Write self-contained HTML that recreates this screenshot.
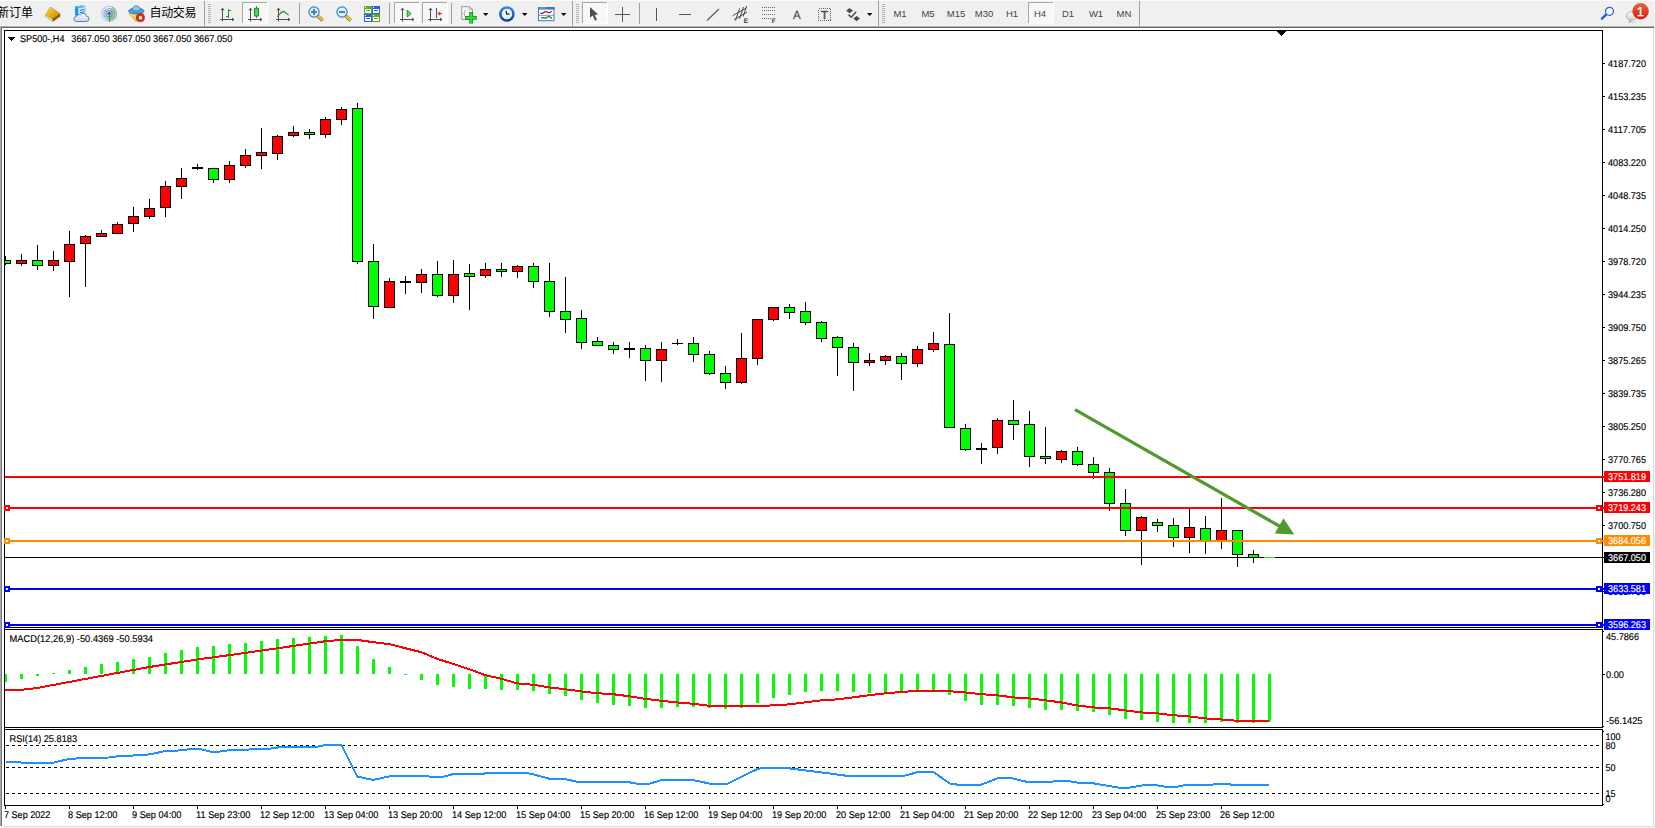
<!DOCTYPE html>
<html lang="zh"><head><meta charset="utf-8"><title>SP500-,H4</title>
<style>
html,body{margin:0;padding:0;background:#fff;overflow:hidden}
body{width:1655px;height:828px;position:relative}
svg{position:absolute;left:0;top:0;display:block}
text{font-family:"Liberation Sans", "DejaVu Sans", sans-serif;font-size:9.8px;fill:#000;text-rendering:geometricPrecision;stroke:#000;stroke-width:.15px}
.cj{font-family:"Liberation Sans", "Noto Sans CJK SC", "WenQuanYi Zen Hei", sans-serif;font-size:12px;stroke:none;text-rendering:auto}
.tf{font-size:9.5px;fill:#444;stroke:none;text-rendering:auto}
.wl{fill:#fff;stroke:#fff}
</style></head><body>
<svg width="1655" height="828" viewBox="0 0 1655 828">
<g shape-rendering="crispEdges">
<rect x="0" y="0" width="1655" height="828" fill="#fff"/>
<rect x="0" y="0" width="1654" height="26" fill="#f0f0f0"/>
<rect x="0" y="0" width="1655" height="1" fill="#fbfbfb"/>
<rect x="0" y="25" width="1654" height="1" fill="#f4f4f4"/>
<rect x="0" y="26" width="1654" height="1" fill="#b0b0b0"/>
<rect x="0" y="27" width="1654" height="1" fill="#696969"/>
<rect x="0" y="27" width="1" height="799" fill="#a8a8a8"/>
<rect x="1" y="28" width="1" height="798" fill="#787878"/>
<rect x="1653" y="28" width="1" height="799" fill="#dcdcdc"/>
<rect x="2" y="826" width="1652" height="1" fill="#dcdcdc"/>
<rect x="0" y="827" width="1655" height="1" fill="#f6f6f6"/>
<rect x="1654" y="0" width="1" height="828" fill="#f6f6f6"/>
</g>
<text class="cj" x="-3" y="17.2">新订单</text>
<defs><linearGradient id="gb" x1="0" y1="0" x2="1" y2="1"><stop offset="0" stop-color="#fbe35a"/><stop offset=".5" stop-color="#e3ad18"/><stop offset="1" stop-color="#b98212"/></linearGradient><linearGradient id="cl" x1="0" y1="0" x2="0" y2="1"><stop offset="0" stop-color="#ffffff"/><stop offset="1" stop-color="#c9d6ea"/></linearGradient><linearGradient id="hy" x1="0" y1="0" x2="1" y2="1"><stop offset="0" stop-color="#fbea7a"/><stop offset="1" stop-color="#e2ac18"/></linearGradient></defs>
<g><path d="M45 16.400 L45.600 14.800 L49.700 7.500 L51.400 7.300 L60 13.600 L60.600 16.200 L52.800 21.800 Z" fill="#a8700c"/><path d="M49.900 7.700 L51.300 7.600 L59.700 13.700 L52.500 19 L45.700 15 Z" fill="url(#gb)"/><path d="M45.300 16.200 L45.800 15.200 L52.500 19.200 L52.700 21.200 Z" fill="#f6e4a4"/><path d="M52.700 19.300 L59.800 14.100 L60.200 16 L52.900 21.300 Z" fill="#8a5a0a"/></g>
<g><path d="M75.200 6.600 L82.300 5.500 L85.800 6.700 L85.800 15.200 L78.300 16.500 L75.200 15.200 Z" fill="#1f7fe0"/><path d="M75.200 6.600 L78.300 7.900 L78.300 16.500 L75.200 15.200 Z" fill="#0a9cff"/><path d="M78.300 7.900 L85.800 6.700 L85.800 15.200 L78.300 16.500 Z" fill="#cfe9ff"/><path d="M75.200 6.600 L82.300 5.500 L85.800 6.700 L78.300 7.900 Z" fill="#5cb8ff"/><path d="M80 10.300l4.600-.8M80 12.600l4.600-.8" stroke="#2a6cc0" stroke-width="1"/><path d="M76.300 21.500h9.800a2.700 2.700 0 0 0 .4-5.400a3.300 3.300 0 0 0-6-1.300a2.800 2.800 0 0 0-3.900 1.700a2.500 2.500 0 0 0-.3 5z" fill="url(#cl)" stroke="#5873ae" stroke-width=".9"/></g>
<g fill="none"><circle cx="109.100" cy="13.800" r="7.500" stroke="#b9c8e6" stroke-width="1.100"/><circle cx="109.100" cy="13.800" r="5.300" stroke="#8aa6dc" stroke-width="1.200"/><circle cx="109.100" cy="13.800" r="3.100" stroke="#5f86d0" stroke-width="1.200"/><path d="M109.100 13.800 L109.300 21.600 A7.800 7.800 0 0 0 116.800 12 A7.800 7.800 0 0 0 112 6.600 Z" fill="#58a848" stroke="none" opacity=".38"/><circle cx="109.100" cy="13.600" r="1.700" fill="#2a52c6"/><path d="M109.400 14.500V21.600" stroke="#2ea32c" stroke-width="1.300"/></g>
<g><path d="M128.800 13.200 L143.600 13.200 L136 21.700 Z" fill="url(#hy)" stroke="#c89a18" stroke-width=".6"/><ellipse cx="136.300" cy="11" rx="7.700" ry="2.900" fill="#4f9fdc" stroke="#256fae" stroke-width=".8"/><path d="M132.300 10.200c.2-3.200 1.900-4.400 4-4.400s3.800 1.200 4 4.400c-1.600 1-6.400 1-8 0z" fill="#8cc6ee" stroke="#2f7ab8" stroke-width=".7"/><circle cx="140.400" cy="17.700" r="4.100" fill="#de2a1c" stroke="#b0180e" stroke-width=".6"/><rect x="138.900" y="16.200" width="3.100" height="3.100" fill="#fff"/></g>
<text class="cj" x="149.500" y="17.2" textLength="47" lengthAdjust="spacing">自动交易</text>
<rect x="204" y="1" width="1" height="25" fill="#a0a0a0" shape-rendering="crispEdges"/>
<g shape-rendering="crispEdges" fill="#b4b4b4"><rect x="208" y="4" width="3" height="1"/><rect x="208" y="6" width="3" height="1"/><rect x="208" y="8" width="3" height="1"/><rect x="208" y="10" width="3" height="1"/><rect x="208" y="12" width="3" height="1"/><rect x="208" y="14" width="3" height="1"/><rect x="208" y="16" width="3" height="1"/><rect x="208" y="18" width="3" height="1"/><rect x="208" y="20" width="3" height="1"/><rect x="208" y="22" width="3" height="1"/></g>
<g stroke="#505050" stroke-width="1" fill="none"><path d="M222.5 21.5V8.3M221 10.4l1.5-2.2 1.5 2.2M220 19.5h13.8M232 18l2 1.5-2 1.5"/></g>
<path d="M228.500 9v9M228.500 10.500h2.700M226 16.500h2.500" stroke="#1f9a2f" stroke-width="1.100" fill="none"/>
<g shape-rendering="crispEdges"><rect x="242" y="2" width="26" height="22" fill="#f8f8f8"/><rect x="242" y="2" width="26" height="1" fill="#a8a8a8"/><rect x="242" y="2" width="1" height="22" fill="#a8a8a8"/><rect x="242" y="23" width="26" height="1" fill="#fff"/><rect x="267" y="2" width="1" height="22" fill="#fff"/></g>
<g stroke="#505050" stroke-width="1" fill="none"><path d="M250.5 21.5V8.3M249 10.4l1.5-2.2 1.5 2.2M248 19.5h13.8M260 18l2 1.5-2 1.5"/></g>
<path d="M256.500 6.200v11.800" stroke="#128a22" stroke-width="1"/><rect x="254.500" y="8.300" width="4" height="7.700" fill="#3cdc58" stroke="#128a22" stroke-width=".9"/>
<g stroke="#505050" stroke-width="1" fill="none"><path d="M278.5 21.5V8.3M277 10.4l1.5-2.2 1.5 2.2M276 19.5h13.8M288 18l2 1.5-2 1.5"/></g>
<path d="M277.300 16.600C279.500 14.600 281.500 11.400 283.400 11.400S286.600 14.400 288.700 15" stroke="#238a2c" stroke-width="1.100" fill="none"/>
<rect x="299" y="3" width="1" height="21" fill="#a0a0a0" shape-rendering="crispEdges"/>
<g><path d="M317.8 16l4.800 4.400" stroke="#96730c" stroke-width="3.400" stroke-linecap="butt"/><path d="M317.8 16l4.600 4.200" stroke="#e2bc2a" stroke-width="2.200" stroke-linecap="butt"/><path d="M318.3 15.700l4.400 4" stroke="#f8e88a" stroke-width=".7"/><circle cx="314" cy="12" r="5.100" fill="#dceffa" stroke="#3a80d0" stroke-width="1.200"/><path d="M311 12h6M314 9v6" stroke="#3c86ba" stroke-width="2" fill="none"/></g>
<g><path d="M345.8 16l4.800 4.400" stroke="#96730c" stroke-width="3.400" stroke-linecap="butt"/><path d="M345.8 16l4.600 4.200" stroke="#e2bc2a" stroke-width="2.200" stroke-linecap="butt"/><path d="M346.3 15.700l4.400 4" stroke="#f8e88a" stroke-width=".7"/><circle cx="342" cy="12" r="5.100" fill="#dceffa" stroke="#3a80d0" stroke-width="1.200"/><path d="M339 12h6" stroke="#3c86ba" stroke-width="2" fill="none"/></g>
<g shape-rendering="crispEdges"><rect x="364" y="6" width="8" height="8" fill="#5aa832"/><rect x="372" y="6" width="8" height="8" fill="#2f5fd0"/><rect x="364" y="14" width="8" height="8" fill="#2f5fd0"/><rect x="372" y="14" width="8" height="8" fill="#5aa832"/><rect x="365" y="9" width="6" height="4" fill="#fff"/><rect x="373" y="9" width="6" height="4" fill="#fff"/><rect x="365" y="17" width="6" height="4" fill="#fff"/><rect x="373" y="17" width="6" height="4" fill="#fff"/><rect x="366" y="10" width="4" height="1" fill="#5aa832"/><rect x="374" y="10" width="4" height="1" fill="#2f5fd0"/><rect x="366" y="18" width="4" height="1" fill="#2f5fd0"/><rect x="374" y="18" width="4" height="1" fill="#5aa832"/><rect x="365" y="7" width="1" height="1" fill="#fff"/><rect x="373" y="7" width="1" height="1" fill="#fff"/><rect x="365" y="15" width="1" height="1" fill="#fff"/><rect x="373" y="15" width="1" height="1" fill="#fff"/></g>
<rect x="389" y="3" width="1" height="21" fill="#a0a0a0" shape-rendering="crispEdges"/>
<g shape-rendering="crispEdges"><rect x="394" y="2" width="26" height="22" fill="#f8f8f8"/><rect x="394" y="2" width="26" height="1" fill="#a8a8a8"/><rect x="394" y="2" width="1" height="22" fill="#a8a8a8"/><rect x="394" y="23" width="26" height="1" fill="#fff"/><rect x="419" y="2" width="1" height="22" fill="#fff"/></g>
<g stroke="#505050" stroke-width="1" fill="none"><path d="M402.5 21.5V8.3M401 10.4l1.5-2.2 1.5 2.2M400 19.5h13.8M412 18l2 1.5-2 1.5"/></g>
<path d="M407.200 10.200l3.900 3.400-3.900 3.400z" fill="#6fe070" stroke="#149a1c" stroke-width="1"/>
<g shape-rendering="crispEdges"><rect x="422" y="2" width="26" height="22" fill="#f8f8f8"/><rect x="422" y="2" width="26" height="1" fill="#a8a8a8"/><rect x="422" y="2" width="1" height="22" fill="#a8a8a8"/><rect x="422" y="23" width="26" height="1" fill="#fff"/><rect x="447" y="2" width="1" height="22" fill="#fff"/></g>
<g stroke="#505050" stroke-width="1" fill="none"><path d="M430.5 21.5V8.3M429 10.4l1.5-2.2 1.5 2.2M428 19.5h13.8M440 18l2 1.5-2 1.5"/></g>
<path d="M436.500 8v10" stroke="#2f66c0" stroke-width="1.200"/><path d="M442 13.600h-3" stroke="#d84a00" stroke-width="1.200" fill="none"/><path d="M437.400 13.600l2.800-2.400v4.800z" fill="#d84a00"/>
<rect x="451" y="3" width="1" height="21" fill="#a0a0a0" shape-rendering="crispEdges"/>
<g><path d="M461.800 6.700h7.600l3.200 3v9.800h-10.800z" fill="#fbfbfb" stroke="#8c8c8c" stroke-width=".9"/><path d="M469.400 6.700v3h3.200" fill="none" stroke="#9a9a9a" stroke-width=".8"/><path d="M465.500 10.500c-1 0-1 1.200-1 2s-.6 1-.9 1c.3 0 .9.200.9 1s0 2 1 2" fill="none" stroke="#8a7a50" stroke-width=".7"/><path d="M471.100 12v11.600M465.100 17.900h11.600" stroke="#0f8c18" stroke-width="3.800"/><path d="M471.100 12.800v10M465.900 17.900h10" stroke="#34dc44" stroke-width="2.200"/></g>
<path d="M483 13h5.400l-2.700 3z" fill="#000"/>
<defs><linearGradient id="ck" x1="0" y1="0" x2="0" y2="1"><stop offset="0" stop-color="#3f8cf0"/><stop offset=".5" stop-color="#1560d0"/><stop offset="1" stop-color="#0a3f9c"/></linearGradient></defs><g><circle cx="506.900" cy="14" r="7.800" fill="url(#ck)"/><circle cx="506.900" cy="14" r="5.300" fill="#f4f8fd"/><path d="M506.900 9.600v.9M506.900 17.500v.9M502.500 14h.9M510.400 14h.9" stroke="#9aa" stroke-width=".8"/><path d="M506 10.800l.7 3.300 2.900-.300" stroke="#222" stroke-width="1.300" fill="none"/></g>
<path d="M522 13h5.400l-2.700 3z" fill="#000"/>
<g><rect x="538.500" y="7.500" width="15.500" height="13.200" fill="#fff" stroke="#3b78cc" stroke-width="1"/><rect x="538" y="7" width="16.500" height="2.600" fill="#3a78d0"/><rect x="539.500" y="7.600" width="6" height=".8" fill="#9cc4f4"/><path d="M539 15.300h15" stroke="#5a90dc" stroke-width=".9"/><path d="M540.200 13.400h2.300l2.600-1.800h1.300l2.100 1h1.300l2-1.400" stroke="#a02414" stroke-width="1.300" fill="none"/><path d="M541.200 18l2.300-.400 2 .700 3.300-2 3 2.100" stroke="#16882a" stroke-width="1.300" fill="none"/></g>
<path d="M561 13h5.400l-2.700 3z" fill="#000"/>
<rect x="572" y="1" width="1" height="25" fill="#a0a0a0" shape-rendering="crispEdges"/>
<g shape-rendering="crispEdges" fill="#b4b4b4"><rect x="576" y="4" width="3" height="1"/><rect x="576" y="6" width="3" height="1"/><rect x="576" y="8" width="3" height="1"/><rect x="576" y="10" width="3" height="1"/><rect x="576" y="12" width="3" height="1"/><rect x="576" y="14" width="3" height="1"/><rect x="576" y="16" width="3" height="1"/><rect x="576" y="18" width="3" height="1"/><rect x="576" y="20" width="3" height="1"/><rect x="576" y="22" width="3" height="1"/></g>
<g shape-rendering="crispEdges"><rect x="582" y="2" width="26" height="22" fill="#f8f8f8"/><rect x="582" y="2" width="26" height="1" fill="#a8a8a8"/><rect x="582" y="2" width="1" height="22" fill="#a8a8a8"/><rect x="582" y="23" width="26" height="1" fill="#fff"/><rect x="607" y="2" width="1" height="22" fill="#fff"/></g>
<path d="M590 7L590 17.800L592.700 15.600L595 20.700L597 19.800L594.700 14.900L598.100 14.400Z" fill="#4d4d4d"/>
<path d="M622.500 7v15M615 14.500h15" stroke="#555" stroke-width="1" fill="none" shape-rendering="crispEdges"/>
<rect x="639" y="3" width="1" height="21" fill="#a0a0a0" shape-rendering="crispEdges"/>
<rect x="656" y="8" width="1" height="13" fill="#555" shape-rendering="crispEdges"/>
<rect x="679" y="14" width="12" height="1" fill="#555" shape-rendering="crispEdges"/>
<path d="M707 20.500L719 9" stroke="#555" stroke-width="1.100"/>
<g stroke="#4a4a4a" stroke-width="1" fill="none"><path d="M732.700 15.600L746 8.200M734 19.600L747 12.200M735.500 20.600L739.600 8.400M739.500 19L743.500 7M743.200 16.500L746.600 6"/></g><text x="743.800" y="22.700" style="font-size:6.500px;font-weight:bold;fill:#333;stroke:none">E</text>
<g stroke="#666" stroke-width="1" stroke-dasharray="1 1" shape-rendering="crispEdges"><path d="M762 7.500h13M762 10.500h13M762 14.500h13M762 18.500h9"/></g><text x="771.800" y="22.700" style="font-size:6.500px;font-weight:bold;fill:#333;stroke:none">F</text>
<text x="793" y="19" textLength="7.700" lengthAdjust="spacingAndGlyphs" style="font-size:12px;fill:#505050;stroke:#505050;stroke-width:.25px">A</text>
<rect x="818.500" y="8.500" width="12" height="12" fill="none" stroke="#666" stroke-width="1" stroke-dasharray="1 1" shape-rendering="crispEdges"/><text x="821" y="19.3" style="font-size:11.5px;fill:#505050;stroke:#505050;stroke-width:.5px">T</text>
<g fill="#4a4a4a"><path d="M849.6 8l3.4 2.7-3.4 2.500-3.400-2.500z"/><path d="M856.6 16l3.400 2.500-3.400 2.700-3.400-2.700z"/><path d="M848.600 14.600l2.600 2.600 5-5.400" stroke="#4a4a4a" stroke-width="1.500" fill="none"/></g>
<path d="M867 13h5.400l-2.700 3z" fill="#000"/>
<rect x="878" y="1" width="1" height="25" fill="#a0a0a0" shape-rendering="crispEdges"/>
<g shape-rendering="crispEdges" fill="#b4b4b4"><rect x="882" y="4" width="3" height="1"/><rect x="882" y="6" width="3" height="1"/><rect x="882" y="8" width="3" height="1"/><rect x="882" y="10" width="3" height="1"/><rect x="882" y="12" width="3" height="1"/><rect x="882" y="14" width="3" height="1"/><rect x="882" y="16" width="3" height="1"/><rect x="882" y="18" width="3" height="1"/><rect x="882" y="20" width="3" height="1"/><rect x="882" y="22" width="3" height="1"/></g>
<g shape-rendering="crispEdges"><rect x="1028" y="2" width="26" height="22" fill="#f8f8f8"/><rect x="1028" y="2" width="26" height="1" fill="#a8a8a8"/><rect x="1028" y="2" width="1" height="22" fill="#a8a8a8"/><rect x="1028" y="23" width="26" height="1" fill="#fff"/><rect x="1053" y="2" width="1" height="22" fill="#fff"/></g>
<text class="tf" x="900" y="17.400" text-anchor="middle">M1</text>
<text class="tf" x="928" y="17.400" text-anchor="middle">M5</text>
<text class="tf" x="956" y="17.400" text-anchor="middle">M15</text>
<text class="tf" x="984" y="17.400" text-anchor="middle">M30</text>
<text class="tf" x="1012" y="17.400" text-anchor="middle">H1</text>
<text class="tf" x="1040" y="17.400" text-anchor="middle">H4</text>
<text class="tf" x="1068" y="17.400" text-anchor="middle">D1</text>
<text class="tf" x="1096" y="17.400" text-anchor="middle">W1</text>
<text class="tf" x="1124" y="17.400" text-anchor="middle">MN</text>
<rect x="1139" y="1" width="1" height="25" fill="#a0a0a0" shape-rendering="crispEdges"/>
<g><path d="M1606.300 14.400l-4.300 4.200" stroke="#2f5fd0" stroke-width="2.600" stroke-linecap="round"/><circle cx="1609.500" cy="11.300" r="4" fill="#f6f8fd" stroke="#2f5fd0" stroke-width="1.200"/></g>
<defs><linearGradient id="bd" x1="0" y1="0" x2="0" y2="1"><stop offset="0" stop-color="#ea6640"/><stop offset=".55" stop-color="#df3a20"/><stop offset="1" stop-color="#d4200e"/></linearGradient><linearGradient id="bb" x1="0" y1="0" x2="0" y2="1"><stop offset="0" stop-color="#ffffff"/><stop offset="1" stop-color="#cfd0da"/></linearGradient></defs><g><ellipse cx="1632" cy="22.300" rx="5" ry=".8" fill="#c8c8c8" opacity=".6"/><path d="M1629.200 19.400l.300 3.200 2.700-2.600z" fill="#d6d7e0" stroke="#a4a4a8" stroke-width=".8"/><ellipse cx="1631.500" cy="16" rx="5.200" ry="4.300" fill="url(#bb)" stroke="#a8a8ac" stroke-width=".9"/><circle cx="1640.600" cy="11.300" r="8.200" fill="url(#bd)"/><text x="1640.300" y="16" text-anchor="middle" style="font-size:13px;fill:#fff;stroke:#fff;stroke-width:.3px">1</text></g>
<g shape-rendering="crispEdges">
<rect x="4" y="30" width="1" height="776" fill="#000"/>
<rect x="4" y="30" width="1599" height="1" fill="#000"/>
<rect x="1602" y="30" width="1" height="776" fill="#000"/>
<rect x="4" y="627" width="1599" height="1" fill="#000"/>
<rect x="4" y="629" width="1599" height="1" fill="#000"/>
<rect x="4" y="727" width="1599" height="1" fill="#000"/>
<rect x="4" y="729" width="1599" height="1" fill="#000"/>
<rect x="4" y="805" width="1599" height="1" fill="#000"/>
<rect x="1602" y="628" width="1" height="1" fill="#fff"/>
<rect x="1602" y="728" width="1" height="1" fill="#fff"/>
<rect x="1603" y="631" width="1" height="1" fill="#000"/>
<rect x="1603" y="726" width="1" height="1" fill="#000"/>
<rect x="1603" y="731" width="1" height="1" fill="#000"/>
<rect x="1603" y="804" width="1" height="1" fill="#000"/>
<rect x="1603" y="63" width="2" height="1" fill="#000"/>
<rect x="1603" y="96" width="2" height="1" fill="#000"/>
<rect x="1603" y="129" width="2" height="1" fill="#000"/>
<rect x="1603" y="162" width="2" height="1" fill="#000"/>
<rect x="1603" y="195" width="2" height="1" fill="#000"/>
<rect x="1603" y="228" width="2" height="1" fill="#000"/>
<rect x="1603" y="261" width="2" height="1" fill="#000"/>
<rect x="1603" y="294" width="2" height="1" fill="#000"/>
<rect x="1603" y="327" width="2" height="1" fill="#000"/>
<rect x="1603" y="360" width="2" height="1" fill="#000"/>
<rect x="1603" y="393" width="2" height="1" fill="#000"/>
<rect x="1603" y="426" width="2" height="1" fill="#000"/>
<rect x="1603" y="459" width="2" height="1" fill="#000"/>
<rect x="1603" y="492" width="2" height="1" fill="#000"/>
<rect x="1603" y="525" width="2" height="1" fill="#000"/>
<rect x="1603" y="591" width="2" height="1" fill="#000"/>
<rect x="1603" y="674" width="2" height="1" fill="#000"/>
<rect x="5" y="806" width="1" height="3" fill="#000"/>
<rect x="69" y="806" width="1" height="3" fill="#000"/>
<rect x="133" y="806" width="1" height="3" fill="#000"/>
<rect x="197" y="806" width="1" height="3" fill="#000"/>
<rect x="261" y="806" width="1" height="3" fill="#000"/>
<rect x="325" y="806" width="1" height="3" fill="#000"/>
<rect x="389" y="806" width="1" height="3" fill="#000"/>
<rect x="453" y="806" width="1" height="3" fill="#000"/>
<rect x="517" y="806" width="1" height="3" fill="#000"/>
<rect x="581" y="806" width="1" height="3" fill="#000"/>
<rect x="645" y="806" width="1" height="3" fill="#000"/>
<rect x="709" y="806" width="1" height="3" fill="#000"/>
<rect x="773" y="806" width="1" height="3" fill="#000"/>
<rect x="837" y="806" width="1" height="3" fill="#000"/>
<rect x="901" y="806" width="1" height="3" fill="#000"/>
<rect x="965" y="806" width="1" height="3" fill="#000"/>
<rect x="1029" y="806" width="1" height="3" fill="#000"/>
<rect x="1093" y="806" width="1" height="3" fill="#000"/>
<rect x="1157" y="806" width="1" height="3" fill="#000"/>
<rect x="1221" y="806" width="1" height="3" fill="#000"/>
</g>
<g shape-rendering="crispEdges">
<rect x="1277" y="31" width="9" height="1" fill="#000"/>
<rect x="1278" y="32" width="7" height="1" fill="#000"/>
<rect x="1279" y="33" width="5" height="1" fill="#000"/>
<rect x="1280" y="34" width="3" height="1" fill="#000"/>
<rect x="1281" y="35" width="1" height="1" fill="#000"/>
<rect x="8" y="37" width="7" height="1" fill="#000"/>
<rect x="9" y="38" width="5" height="1" fill="#000"/>
<rect x="10" y="39" width="3" height="1" fill="#000"/>
<rect x="11" y="40" width="1" height="1" fill="#000"/>
</g>
<defs><clipPath id="cm"><rect x="5" y="31" width="1597" height="596"/></clipPath></defs>
<g shape-rendering="crispEdges" clip-path="url(#cm)">
<rect x="5" y="256" width="1" height="9" fill="#000"/>
<rect x="0" y="260" width="11" height="4" fill="#000"/>
<rect x="1" y="261" width="9" height="2" fill="#00ff00"/>
<rect x="21" y="254" width="1" height="12" fill="#000"/>
<rect x="16" y="260" width="11" height="4" fill="#000"/>
<rect x="17" y="261" width="9" height="2" fill="#ff0000"/>
<rect x="37" y="245" width="1" height="25" fill="#000"/>
<rect x="32" y="260" width="11" height="6" fill="#000"/>
<rect x="33" y="261" width="9" height="4" fill="#00ff00"/>
<rect x="53" y="251" width="1" height="20" fill="#000"/>
<rect x="48" y="260" width="11" height="6" fill="#000"/>
<rect x="49" y="261" width="9" height="4" fill="#ff0000"/>
<rect x="69" y="231" width="1" height="66" fill="#000"/>
<rect x="64" y="244" width="11" height="18" fill="#000"/>
<rect x="65" y="245" width="9" height="16" fill="#ff0000"/>
<rect x="85" y="235" width="1" height="52" fill="#000"/>
<rect x="80" y="236" width="11" height="8" fill="#000"/>
<rect x="81" y="237" width="9" height="6" fill="#ff0000"/>
<rect x="101" y="230" width="1" height="6" fill="#000"/>
<rect x="96" y="233" width="11" height="4" fill="#000"/>
<rect x="97" y="234" width="9" height="2" fill="#ff0000"/>
<rect x="117" y="222" width="1" height="12" fill="#000"/>
<rect x="112" y="224" width="11" height="10" fill="#000"/>
<rect x="113" y="225" width="9" height="8" fill="#ff0000"/>
<rect x="133" y="207" width="1" height="25" fill="#000"/>
<rect x="128" y="216" width="11" height="8" fill="#000"/>
<rect x="129" y="217" width="9" height="6" fill="#ff0000"/>
<rect x="149" y="199" width="1" height="20" fill="#000"/>
<rect x="144" y="208" width="11" height="9" fill="#000"/>
<rect x="145" y="209" width="9" height="7" fill="#ff0000"/>
<rect x="165" y="181" width="1" height="36" fill="#000"/>
<rect x="160" y="186" width="11" height="22" fill="#000"/>
<rect x="161" y="187" width="9" height="20" fill="#ff0000"/>
<rect x="181" y="168" width="1" height="31" fill="#000"/>
<rect x="176" y="178" width="11" height="9" fill="#000"/>
<rect x="177" y="179" width="9" height="7" fill="#ff0000"/>
<rect x="197" y="164" width="1" height="6" fill="#000"/>
<rect x="192" y="167" width="11" height="2" fill="#000"/>
<rect x="213" y="168" width="1" height="15" fill="#000"/>
<rect x="208" y="168" width="11" height="12" fill="#000"/>
<rect x="209" y="169" width="9" height="10" fill="#00ff00"/>
<rect x="229" y="161" width="1" height="22" fill="#000"/>
<rect x="224" y="165" width="11" height="15" fill="#000"/>
<rect x="225" y="166" width="9" height="13" fill="#ff0000"/>
<rect x="245" y="149" width="1" height="19" fill="#000"/>
<rect x="240" y="155" width="11" height="11" fill="#000"/>
<rect x="241" y="156" width="9" height="9" fill="#ff0000"/>
<rect x="261" y="128" width="1" height="41" fill="#000"/>
<rect x="256" y="152" width="11" height="4" fill="#000"/>
<rect x="257" y="153" width="9" height="2" fill="#ff0000"/>
<rect x="277" y="135" width="1" height="25" fill="#000"/>
<rect x="272" y="136" width="11" height="18" fill="#000"/>
<rect x="273" y="137" width="9" height="16" fill="#ff0000"/>
<rect x="293" y="126" width="1" height="11" fill="#000"/>
<rect x="288" y="132" width="11" height="4" fill="#000"/>
<rect x="289" y="133" width="9" height="2" fill="#ff0000"/>
<rect x="309" y="129" width="1" height="10" fill="#000"/>
<rect x="304" y="132" width="11" height="3" fill="#000"/>
<rect x="305" y="133" width="9" height="1" fill="#00ff00"/>
<rect x="325" y="117" width="1" height="21" fill="#000"/>
<rect x="320" y="119" width="11" height="16" fill="#000"/>
<rect x="321" y="120" width="9" height="14" fill="#ff0000"/>
<rect x="341" y="107" width="1" height="18" fill="#000"/>
<rect x="336" y="109" width="11" height="11" fill="#000"/>
<rect x="337" y="110" width="9" height="9" fill="#ff0000"/>
<rect x="357" y="103" width="1" height="161" fill="#000"/>
<rect x="352" y="108" width="11" height="154" fill="#000"/>
<rect x="353" y="109" width="9" height="152" fill="#00ff00"/>
<rect x="373" y="244" width="1" height="75" fill="#000"/>
<rect x="368" y="261" width="11" height="46" fill="#000"/>
<rect x="369" y="262" width="9" height="44" fill="#00ff00"/>
<rect x="389" y="278" width="1" height="30" fill="#000"/>
<rect x="384" y="281" width="11" height="27" fill="#000"/>
<rect x="385" y="282" width="9" height="25" fill="#ff0000"/>
<rect x="405" y="276" width="1" height="18" fill="#000"/>
<rect x="400" y="281" width="11" height="2" fill="#000"/>
<rect x="421" y="269" width="1" height="24" fill="#000"/>
<rect x="416" y="274" width="11" height="9" fill="#000"/>
<rect x="417" y="275" width="9" height="7" fill="#ff0000"/>
<rect x="437" y="261" width="1" height="36" fill="#000"/>
<rect x="432" y="274" width="11" height="22" fill="#000"/>
<rect x="433" y="275" width="9" height="20" fill="#00ff00"/>
<rect x="453" y="260" width="1" height="43" fill="#000"/>
<rect x="448" y="274" width="11" height="22" fill="#000"/>
<rect x="449" y="275" width="9" height="20" fill="#ff0000"/>
<rect x="469" y="264" width="1" height="46" fill="#000"/>
<rect x="464" y="273" width="11" height="4" fill="#000"/>
<rect x="465" y="274" width="9" height="2" fill="#00ff00"/>
<rect x="485" y="263" width="1" height="15" fill="#000"/>
<rect x="480" y="269" width="11" height="7" fill="#000"/>
<rect x="481" y="270" width="9" height="5" fill="#ff0000"/>
<rect x="501" y="263" width="1" height="14" fill="#000"/>
<rect x="496" y="269" width="11" height="3" fill="#000"/>
<rect x="497" y="270" width="9" height="1" fill="#00ff00"/>
<rect x="517" y="265" width="1" height="13" fill="#000"/>
<rect x="512" y="266" width="11" height="6" fill="#000"/>
<rect x="513" y="267" width="9" height="4" fill="#ff0000"/>
<rect x="533" y="263" width="1" height="25" fill="#000"/>
<rect x="528" y="266" width="11" height="16" fill="#000"/>
<rect x="529" y="267" width="9" height="14" fill="#00ff00"/>
<rect x="549" y="263" width="1" height="54" fill="#000"/>
<rect x="544" y="281" width="11" height="31" fill="#000"/>
<rect x="545" y="282" width="9" height="29" fill="#00ff00"/>
<rect x="565" y="277" width="1" height="56" fill="#000"/>
<rect x="560" y="311" width="11" height="9" fill="#000"/>
<rect x="561" y="312" width="9" height="7" fill="#00ff00"/>
<rect x="581" y="310" width="1" height="39" fill="#000"/>
<rect x="576" y="318" width="11" height="25" fill="#000"/>
<rect x="577" y="319" width="9" height="23" fill="#00ff00"/>
<rect x="597" y="337" width="1" height="9" fill="#000"/>
<rect x="592" y="341" width="11" height="5" fill="#000"/>
<rect x="593" y="342" width="9" height="3" fill="#00ff00"/>
<rect x="613" y="342" width="1" height="12" fill="#000"/>
<rect x="608" y="345" width="11" height="5" fill="#000"/>
<rect x="609" y="346" width="9" height="3" fill="#00ff00"/>
<rect x="629" y="342" width="1" height="16" fill="#000"/>
<rect x="624" y="348" width="11" height="2" fill="#000"/>
<rect x="645" y="345" width="1" height="36" fill="#000"/>
<rect x="640" y="348" width="11" height="13" fill="#000"/>
<rect x="641" y="349" width="9" height="11" fill="#00ff00"/>
<rect x="661" y="342" width="1" height="40" fill="#000"/>
<rect x="656" y="349" width="11" height="12" fill="#000"/>
<rect x="657" y="350" width="9" height="10" fill="#ff0000"/>
<rect x="677" y="339" width="1" height="6" fill="#000"/>
<rect x="672" y="343" width="11" height="1" fill="#000"/>
<rect x="693" y="337" width="1" height="25" fill="#000"/>
<rect x="688" y="343" width="11" height="12" fill="#000"/>
<rect x="689" y="344" width="9" height="10" fill="#00ff00"/>
<rect x="709" y="351" width="1" height="24" fill="#000"/>
<rect x="704" y="354" width="11" height="20" fill="#000"/>
<rect x="705" y="355" width="9" height="18" fill="#00ff00"/>
<rect x="725" y="366" width="1" height="23" fill="#000"/>
<rect x="720" y="373" width="11" height="10" fill="#000"/>
<rect x="721" y="374" width="9" height="8" fill="#00ff00"/>
<rect x="741" y="333" width="1" height="51" fill="#000"/>
<rect x="736" y="358" width="11" height="25" fill="#000"/>
<rect x="737" y="359" width="9" height="23" fill="#ff0000"/>
<rect x="757" y="319" width="1" height="46" fill="#000"/>
<rect x="752" y="319" width="11" height="40" fill="#000"/>
<rect x="753" y="320" width="9" height="38" fill="#ff0000"/>
<rect x="773" y="307" width="1" height="14" fill="#000"/>
<rect x="768" y="307" width="11" height="13" fill="#000"/>
<rect x="769" y="308" width="9" height="11" fill="#ff0000"/>
<rect x="789" y="304" width="1" height="15" fill="#000"/>
<rect x="784" y="307" width="11" height="6" fill="#000"/>
<rect x="785" y="308" width="9" height="4" fill="#00ff00"/>
<rect x="805" y="302" width="1" height="23" fill="#000"/>
<rect x="800" y="311" width="11" height="12" fill="#000"/>
<rect x="801" y="312" width="9" height="10" fill="#00ff00"/>
<rect x="821" y="321" width="1" height="21" fill="#000"/>
<rect x="816" y="322" width="11" height="17" fill="#000"/>
<rect x="817" y="323" width="9" height="15" fill="#00ff00"/>
<rect x="837" y="336" width="1" height="40" fill="#000"/>
<rect x="832" y="337" width="11" height="11" fill="#000"/>
<rect x="833" y="338" width="9" height="9" fill="#00ff00"/>
<rect x="853" y="343" width="1" height="48" fill="#000"/>
<rect x="848" y="347" width="11" height="16" fill="#000"/>
<rect x="849" y="348" width="9" height="14" fill="#00ff00"/>
<rect x="869" y="353" width="1" height="13" fill="#000"/>
<rect x="864" y="360" width="11" height="3" fill="#000"/>
<rect x="865" y="361" width="9" height="1" fill="#ff0000"/>
<rect x="885" y="355" width="1" height="10" fill="#000"/>
<rect x="880" y="356" width="11" height="5" fill="#000"/>
<rect x="881" y="357" width="9" height="3" fill="#ff0000"/>
<rect x="901" y="353" width="1" height="27" fill="#000"/>
<rect x="896" y="356" width="11" height="8" fill="#000"/>
<rect x="897" y="357" width="9" height="6" fill="#00ff00"/>
<rect x="917" y="346" width="1" height="21" fill="#000"/>
<rect x="912" y="349" width="11" height="15" fill="#000"/>
<rect x="913" y="350" width="9" height="13" fill="#ff0000"/>
<rect x="933" y="332" width="1" height="20" fill="#000"/>
<rect x="928" y="343" width="11" height="7" fill="#000"/>
<rect x="929" y="344" width="9" height="5" fill="#ff0000"/>
<rect x="949" y="313" width="1" height="115" fill="#000"/>
<rect x="944" y="344" width="11" height="84" fill="#000"/>
<rect x="945" y="345" width="9" height="82" fill="#00ff00"/>
<rect x="965" y="424" width="1" height="27" fill="#000"/>
<rect x="960" y="428" width="11" height="22" fill="#000"/>
<rect x="961" y="429" width="9" height="20" fill="#00ff00"/>
<rect x="981" y="443" width="1" height="21" fill="#000"/>
<rect x="976" y="448" width="11" height="2" fill="#000"/>
<rect x="997" y="418" width="1" height="36" fill="#000"/>
<rect x="992" y="420" width="11" height="28" fill="#000"/>
<rect x="993" y="421" width="9" height="26" fill="#ff0000"/>
<rect x="1013" y="400" width="1" height="40" fill="#000"/>
<rect x="1008" y="420" width="11" height="5" fill="#000"/>
<rect x="1009" y="421" width="9" height="3" fill="#00ff00"/>
<rect x="1029" y="411" width="1" height="56" fill="#000"/>
<rect x="1024" y="424" width="11" height="33" fill="#000"/>
<rect x="1025" y="425" width="9" height="31" fill="#00ff00"/>
<rect x="1045" y="427" width="1" height="37" fill="#000"/>
<rect x="1040" y="456" width="11" height="3" fill="#000"/>
<rect x="1041" y="457" width="9" height="1" fill="#00ff00"/>
<rect x="1061" y="450" width="1" height="13" fill="#000"/>
<rect x="1056" y="451" width="11" height="9" fill="#000"/>
<rect x="1057" y="452" width="9" height="7" fill="#ff0000"/>
<rect x="1077" y="447" width="1" height="19" fill="#000"/>
<rect x="1072" y="451" width="11" height="14" fill="#000"/>
<rect x="1073" y="452" width="9" height="12" fill="#00ff00"/>
<rect x="1093" y="457" width="1" height="22" fill="#000"/>
<rect x="1088" y="464" width="11" height="9" fill="#000"/>
<rect x="1089" y="465" width="9" height="7" fill="#00ff00"/>
<rect x="1109" y="468" width="1" height="43" fill="#000"/>
<rect x="1104" y="472" width="11" height="32" fill="#000"/>
<rect x="1105" y="473" width="9" height="30" fill="#00ff00"/>
<rect x="1125" y="489" width="1" height="47" fill="#000"/>
<rect x="1120" y="503" width="11" height="28" fill="#000"/>
<rect x="1121" y="504" width="9" height="26" fill="#00ff00"/>
<rect x="1141" y="516" width="1" height="49" fill="#000"/>
<rect x="1136" y="517" width="11" height="14" fill="#000"/>
<rect x="1137" y="518" width="9" height="12" fill="#ff0000"/>
<rect x="1157" y="519" width="1" height="13" fill="#000"/>
<rect x="1152" y="522" width="11" height="4" fill="#000"/>
<rect x="1153" y="523" width="9" height="2" fill="#00ff00"/>
<rect x="1173" y="518" width="1" height="29" fill="#000"/>
<rect x="1168" y="525" width="11" height="13" fill="#000"/>
<rect x="1169" y="526" width="9" height="11" fill="#00ff00"/>
<rect x="1189" y="509" width="1" height="44" fill="#000"/>
<rect x="1184" y="527" width="11" height="11" fill="#000"/>
<rect x="1185" y="528" width="9" height="9" fill="#ff0000"/>
<rect x="1205" y="516" width="1" height="38" fill="#000"/>
<rect x="1200" y="528" width="11" height="13" fill="#000"/>
<rect x="1201" y="529" width="9" height="11" fill="#00ff00"/>
<rect x="1221" y="498" width="1" height="51" fill="#000"/>
<rect x="1216" y="530" width="11" height="11" fill="#000"/>
<rect x="1217" y="531" width="9" height="9" fill="#ff0000"/>
<rect x="1237" y="530" width="1" height="37" fill="#000"/>
<rect x="1232" y="530" width="11" height="25" fill="#000"/>
<rect x="1233" y="531" width="9" height="23" fill="#00ff00"/>
<rect x="1253" y="550" width="1" height="13" fill="#000"/>
<rect x="1248" y="554" width="11" height="4" fill="#000"/>
<rect x="1249" y="555" width="9" height="2" fill="#00ff00"/>
</g>
<g shape-rendering="crispEdges">
<rect x="5" y="557" width="1599" height="1" fill="#000"/>
<rect x="1264" y="557" width="11" height="1" fill="#00ff00"/>
<rect x="5" y="476" width="1599" height="2" fill="#ff0000"/>
<rect x="5" y="507" width="1599" height="2" fill="#ff0000"/>
<rect x="4" y="505" width="6" height="6" fill="#ff0000"/>
<rect x="6" y="507" width="2" height="2" fill="#fff"/>
<rect x="1596" y="505" width="6" height="6" fill="#ff0000"/>
<rect x="1598" y="507" width="2" height="2" fill="#fff"/>
<rect x="5" y="540" width="1599" height="2" fill="#ff8c00"/>
<rect x="4" y="538" width="6" height="6" fill="#ff8c00"/>
<rect x="6" y="540" width="2" height="2" fill="#fff"/>
<rect x="1596" y="538" width="6" height="6" fill="#ff8c00"/>
<rect x="1598" y="540" width="2" height="2" fill="#fff"/>
<rect x="5" y="588" width="1599" height="2" fill="#0000ff"/>
<rect x="4" y="586" width="6" height="6" fill="#0000ff"/>
<rect x="6" y="588" width="2" height="2" fill="#fff"/>
<rect x="1596" y="586" width="6" height="6" fill="#0000ff"/>
<rect x="1598" y="588" width="2" height="2" fill="#fff"/>
<rect x="5" y="624" width="1599" height="2" fill="#0000ff"/>
<rect x="4" y="622" width="6" height="6" fill="#0000ff"/>
<rect x="6" y="624" width="2" height="2" fill="#fff"/>
<rect x="1596" y="622" width="6" height="6" fill="#0000ff"/>
<rect x="1598" y="624" width="2" height="2" fill="#fff"/>
</g>
<g fill="#4e9a2e" stroke="none">
<path d="M1075 409.6 L1281 527" stroke="#4e9a2e" stroke-width="3.2" fill="none"/>
<path d="M1283.5 518.2 L1294.2 534.5 L1274.7 533.6 Z"/>
</g>
<text x="1608" y="67" textLength="38" lengthAdjust="spacingAndGlyphs">4187.720</text>
<text x="1608" y="100" textLength="38" lengthAdjust="spacingAndGlyphs">4153.235</text>
<text x="1608" y="133" textLength="38" lengthAdjust="spacingAndGlyphs">4117.705</text>
<text x="1608" y="166" textLength="38" lengthAdjust="spacingAndGlyphs">4083.220</text>
<text x="1608" y="199" textLength="38" lengthAdjust="spacingAndGlyphs">4048.735</text>
<text x="1608" y="232" textLength="38" lengthAdjust="spacingAndGlyphs">4014.250</text>
<text x="1608" y="265" textLength="38" lengthAdjust="spacingAndGlyphs">3978.720</text>
<text x="1608" y="298" textLength="38" lengthAdjust="spacingAndGlyphs">3944.235</text>
<text x="1608" y="331" textLength="38" lengthAdjust="spacingAndGlyphs">3909.750</text>
<text x="1608" y="364" textLength="38" lengthAdjust="spacingAndGlyphs">3875.265</text>
<text x="1608" y="397" textLength="38" lengthAdjust="spacingAndGlyphs">3839.735</text>
<text x="1608" y="430" textLength="38" lengthAdjust="spacingAndGlyphs">3805.250</text>
<text x="1608" y="463" textLength="38" lengthAdjust="spacingAndGlyphs">3770.765</text>
<text x="1608" y="496" textLength="38" lengthAdjust="spacingAndGlyphs">3736.280</text>
<text x="1608" y="529" textLength="38" lengthAdjust="spacingAndGlyphs">3700.750</text>
<text x="1608" y="595" textLength="38" lengthAdjust="spacingAndGlyphs">3631.780</text>
<g shape-rendering="crispEdges">
<rect x="1604" y="471" width="46" height="11" fill="#ff0000"/>
<rect x="1604" y="502" width="46" height="11" fill="#ff0000"/>
<rect x="1604" y="535" width="46" height="11" fill="#ff8c00"/>
<rect x="1604" y="552" width="46" height="11" fill="#000000"/>
<rect x="1604" y="583" width="46" height="11" fill="#0000ff"/>
<rect x="1604" y="619" width="46" height="11" fill="#0000ff"/>
</g>
<text x="1608" y="480.0" class="wl" textLength="38" lengthAdjust="spacingAndGlyphs">3751.819</text>
<text x="1608" y="511.0" class="wl" textLength="38" lengthAdjust="spacingAndGlyphs">3719.243</text>
<text x="1608" y="544.0" class="wl" textLength="38" lengthAdjust="spacingAndGlyphs">3684.056</text>
<text x="1608" y="561.0" class="wl" textLength="38" lengthAdjust="spacingAndGlyphs">3667.050</text>
<text x="1608" y="592.0" class="wl" textLength="38" lengthAdjust="spacingAndGlyphs">3633.581</text>
<text x="1608" y="628.0" class="wl" textLength="38" lengthAdjust="spacingAndGlyphs">3596.263</text>
<text x="20" y="42" textLength="44.5" lengthAdjust="spacingAndGlyphs">SP500-,H4</text>
<text x="71.3" y="42" textLength="161" lengthAdjust="spacingAndGlyphs">3667.050 3667.050 3667.050 3667.050</text>
<g shape-rendering="crispEdges">
<rect x="5" y="674" width="2" height="8" fill="#00ff00"/>
<rect x="20" y="674" width="3" height="5" fill="#00ff00"/>
<rect x="36" y="674" width="3" height="2" fill="#00ff00"/>
<rect x="52" y="673" width="3" height="1" fill="#00ff00"/>
<rect x="68" y="670" width="3" height="4" fill="#00ff00"/>
<rect x="84" y="667" width="3" height="7" fill="#00ff00"/>
<rect x="100" y="664" width="3" height="10" fill="#00ff00"/>
<rect x="116" y="662" width="3" height="12" fill="#00ff00"/>
<rect x="132" y="659" width="3" height="15" fill="#00ff00"/>
<rect x="148" y="657" width="3" height="17" fill="#00ff00"/>
<rect x="164" y="653" width="3" height="21" fill="#00ff00"/>
<rect x="180" y="650" width="3" height="24" fill="#00ff00"/>
<rect x="196" y="647" width="3" height="27" fill="#00ff00"/>
<rect x="212" y="646" width="3" height="28" fill="#00ff00"/>
<rect x="228" y="644" width="3" height="30" fill="#00ff00"/>
<rect x="244" y="643" width="3" height="31" fill="#00ff00"/>
<rect x="260" y="641" width="3" height="33" fill="#00ff00"/>
<rect x="276" y="639" width="3" height="35" fill="#00ff00"/>
<rect x="292" y="638" width="3" height="36" fill="#00ff00"/>
<rect x="308" y="637" width="3" height="37" fill="#00ff00"/>
<rect x="324" y="636" width="3" height="38" fill="#00ff00"/>
<rect x="340" y="635" width="3" height="39" fill="#00ff00"/>
<rect x="356" y="646" width="3" height="28" fill="#00ff00"/>
<rect x="372" y="659" width="3" height="15" fill="#00ff00"/>
<rect x="388" y="667" width="3" height="7" fill="#00ff00"/>
<rect x="404" y="674" width="3" height="1" fill="#00ff00"/>
<rect x="420" y="674" width="3" height="6" fill="#00ff00"/>
<rect x="436" y="674" width="3" height="11" fill="#00ff00"/>
<rect x="452" y="674" width="3" height="13" fill="#00ff00"/>
<rect x="468" y="674" width="3" height="15" fill="#00ff00"/>
<rect x="484" y="674" width="3" height="15" fill="#00ff00"/>
<rect x="500" y="674" width="3" height="16" fill="#00ff00"/>
<rect x="516" y="674" width="3" height="16" fill="#00ff00"/>
<rect x="532" y="674" width="3" height="17" fill="#00ff00"/>
<rect x="548" y="674" width="3" height="20" fill="#00ff00"/>
<rect x="564" y="674" width="3" height="22" fill="#00ff00"/>
<rect x="580" y="674" width="3" height="26" fill="#00ff00"/>
<rect x="596" y="674" width="3" height="29" fill="#00ff00"/>
<rect x="612" y="674" width="3" height="31" fill="#00ff00"/>
<rect x="628" y="674" width="3" height="32" fill="#00ff00"/>
<rect x="644" y="674" width="3" height="34" fill="#00ff00"/>
<rect x="660" y="674" width="3" height="34" fill="#00ff00"/>
<rect x="676" y="674" width="3" height="33" fill="#00ff00"/>
<rect x="692" y="674" width="3" height="33" fill="#00ff00"/>
<rect x="708" y="674" width="3" height="34" fill="#00ff00"/>
<rect x="724" y="674" width="3" height="35" fill="#00ff00"/>
<rect x="740" y="674" width="3" height="34" fill="#00ff00"/>
<rect x="756" y="674" width="3" height="29" fill="#00ff00"/>
<rect x="772" y="674" width="3" height="24" fill="#00ff00"/>
<rect x="788" y="674" width="3" height="21" fill="#00ff00"/>
<rect x="804" y="674" width="3" height="18" fill="#00ff00"/>
<rect x="820" y="674" width="3" height="17" fill="#00ff00"/>
<rect x="836" y="674" width="3" height="17" fill="#00ff00"/>
<rect x="852" y="674" width="3" height="18" fill="#00ff00"/>
<rect x="868" y="674" width="3" height="19" fill="#00ff00"/>
<rect x="884" y="674" width="3" height="19" fill="#00ff00"/>
<rect x="900" y="674" width="3" height="18" fill="#00ff00"/>
<rect x="916" y="674" width="3" height="17" fill="#00ff00"/>
<rect x="932" y="674" width="3" height="16" fill="#00ff00"/>
<rect x="948" y="674" width="3" height="21" fill="#00ff00"/>
<rect x="964" y="674" width="3" height="27" fill="#00ff00"/>
<rect x="980" y="674" width="3" height="31" fill="#00ff00"/>
<rect x="996" y="674" width="3" height="31" fill="#00ff00"/>
<rect x="1012" y="674" width="3" height="32" fill="#00ff00"/>
<rect x="1028" y="674" width="3" height="34" fill="#00ff00"/>
<rect x="1044" y="674" width="3" height="36" fill="#00ff00"/>
<rect x="1060" y="674" width="3" height="36" fill="#00ff00"/>
<rect x="1076" y="674" width="3" height="37" fill="#00ff00"/>
<rect x="1092" y="674" width="3" height="38" fill="#00ff00"/>
<rect x="1108" y="674" width="3" height="41" fill="#00ff00"/>
<rect x="1124" y="674" width="3" height="45" fill="#00ff00"/>
<rect x="1140" y="674" width="3" height="46" fill="#00ff00"/>
<rect x="1156" y="674" width="3" height="48" fill="#00ff00"/>
<rect x="1172" y="674" width="3" height="49" fill="#00ff00"/>
<rect x="1188" y="674" width="3" height="49" fill="#00ff00"/>
<rect x="1204" y="674" width="3" height="49" fill="#00ff00"/>
<rect x="1220" y="674" width="3" height="48" fill="#00ff00"/>
<rect x="1236" y="674" width="3" height="49" fill="#00ff00"/>
<rect x="1252" y="674" width="3" height="49" fill="#00ff00"/>
<rect x="1268" y="674" width="3" height="48" fill="#00ff00"/>
<polyline points="5,690 20,690 37,688 69,682 101,676 147.5,667.3 197,659.5 245,653 293,646 327,641 342,640 358,640 374,642.3 390,644.3 405.7,648.3 421.7,652.3 437.6,659 453.6,664 469.5,669.3 485.5,675.2 501.4,678.8 517.4,683.4 533.3,684.8 549.3,687.4 565.2,689.2 581.2,691.4 597.1,693.2 613.1,694.2 629,696.2 645,698.8 661,700.8 677,702.4 693,703.8 709,705.8 725,706 741,706 757,706 773,705.4 789,704.4 805,702.4 821,700.4 837,699.4 853,697.4 869,695.2 885,693.4 901,692 917,690.8 933,690.8 949,691.2 965,692.4 981,694.2 997,695.2 1013,697.4 1029,698.4 1045,700.2 1061,702.4 1077,705.4 1093,707.4 1109,708.2 1125,710.4 1141,712.4 1157,713.2 1173,715.2 1189,716.4 1205,718.4 1221,719.4 1237,720.8 1253,721.2 1269,721.2" fill="none" stroke="#ff0000" stroke-width="2"/>
</g>
<text x="9.5" y="642" textLength="143.5" lengthAdjust="spacingAndGlyphs">MACD(12,26,9) -50.4369 -50.5934</text>
<text x="1606" y="640" textLength="33" lengthAdjust="spacingAndGlyphs">45.7866</text>
<text x="1606" y="678" textLength="18" lengthAdjust="spacingAndGlyphs">0.00</text>
<text x="1606" y="724" textLength="36.5" lengthAdjust="spacingAndGlyphs">-56.1425</text>
<g shape-rendering="crispEdges">
<line x1="6" y1="745.5" x2="1600" y2="745.5" stroke="#000" stroke-width="1" stroke-dasharray="3 3"/>
<line x1="6" y1="767.5" x2="1600" y2="767.5" stroke="#000" stroke-width="1" stroke-dasharray="3 3"/>
<line x1="6" y1="793.5" x2="1600" y2="793.5" stroke="#000" stroke-width="1" stroke-dasharray="3 3"/>
<polyline points="5.6,762.3 20.3,762.3 24,763 52,763 69.8,758.8 86.3,758 109,757.5 118,756.2 133,755.5 149.7,754.4 166,750.9 181.5,750.4 190,749.1 200.5,749.1 210.7,751.6 219.5,751.6 229.7,750.1 245,749.6 266.5,749.1 279,747.3 317,746.8 326,744.8 341.4,744.8 357.4,776.5 373,780 389.6,776.3 428,776.3 431.7,777.3 442,777 454.6,773.7 483.8,773.7 487.6,772.7 524.4,772.7 532,774 549.7,778.8 565,779 577.7,781.9 627,781.9 638.6,783.9 648.7,783.9 662.7,779.8 692,779.8 711,783.9 727.4,783.9 757.9,768.7 765.5,767.9 785.8,767.9 800,769.7 820,772.2 846.8,775.8 904,775.8 919,771.8 933,771.8 950,783.6 958.6,784.8 980.7,784.8 998,778.2 1011.5,778.2 1026.6,781.8 1050.8,781.8 1056.8,780.9 1067,780.9 1078,782.7 1091.5,783 1120,787.8 1127.8,787.8 1144.4,785.1 1155,785.1 1167,786.9 1176,786.9 1186.7,784.8 1211,784.8 1217,783.9 1227.5,783.9 1232,784.8 1269,784.8" fill="none" stroke="#1e90ff" stroke-width="2"/>
</g>
<text x="9.5" y="742" textLength="67.5" lengthAdjust="spacingAndGlyphs">RSI(14) 25.8183</text>
<text x="1605.5" y="740" textLength="15" lengthAdjust="spacingAndGlyphs">100</text>
<text x="1605.5" y="749" textLength="10" lengthAdjust="spacingAndGlyphs">80</text>
<text x="1605.5" y="771" textLength="10" lengthAdjust="spacingAndGlyphs">50</text>
<text x="1605.5" y="797" textLength="10" lengthAdjust="spacingAndGlyphs">15</text>
<text x="1605.5" y="802" textLength="5" lengthAdjust="spacingAndGlyphs">0</text>
<text x="4" y="818" textLength="46.4" lengthAdjust="spacingAndGlyphs">7 Sep 2022</text>
<text x="68" y="818" textLength="49.4" lengthAdjust="spacingAndGlyphs">8 Sep 12:00</text>
<text x="132" y="818" textLength="49.4" lengthAdjust="spacingAndGlyphs">9 Sep 04:00</text>
<text x="196" y="818" textLength="54.4" lengthAdjust="spacingAndGlyphs">11 Sep 23:00</text>
<text x="260" y="818" textLength="54.4" lengthAdjust="spacingAndGlyphs">12 Sep 12:00</text>
<text x="324" y="818" textLength="54.4" lengthAdjust="spacingAndGlyphs">13 Sep 04:00</text>
<text x="388" y="818" textLength="54.4" lengthAdjust="spacingAndGlyphs">13 Sep 20:00</text>
<text x="452" y="818" textLength="54.4" lengthAdjust="spacingAndGlyphs">14 Sep 12:00</text>
<text x="516" y="818" textLength="54.4" lengthAdjust="spacingAndGlyphs">15 Sep 04:00</text>
<text x="580" y="818" textLength="54.4" lengthAdjust="spacingAndGlyphs">15 Sep 20:00</text>
<text x="644" y="818" textLength="54.4" lengthAdjust="spacingAndGlyphs">16 Sep 12:00</text>
<text x="708" y="818" textLength="54.4" lengthAdjust="spacingAndGlyphs">19 Sep 04:00</text>
<text x="772" y="818" textLength="54.4" lengthAdjust="spacingAndGlyphs">19 Sep 20:00</text>
<text x="836" y="818" textLength="54.4" lengthAdjust="spacingAndGlyphs">20 Sep 12:00</text>
<text x="900" y="818" textLength="54.4" lengthAdjust="spacingAndGlyphs">21 Sep 04:00</text>
<text x="964" y="818" textLength="54.4" lengthAdjust="spacingAndGlyphs">21 Sep 20:00</text>
<text x="1028" y="818" textLength="54.4" lengthAdjust="spacingAndGlyphs">22 Sep 12:00</text>
<text x="1092" y="818" textLength="54.4" lengthAdjust="spacingAndGlyphs">23 Sep 04:00</text>
<text x="1156" y="818" textLength="54.4" lengthAdjust="spacingAndGlyphs">25 Sep 23:00</text>
<text x="1220" y="818" textLength="54.4" lengthAdjust="spacingAndGlyphs">26 Sep 12:00</text>
</svg>
</body></html>
